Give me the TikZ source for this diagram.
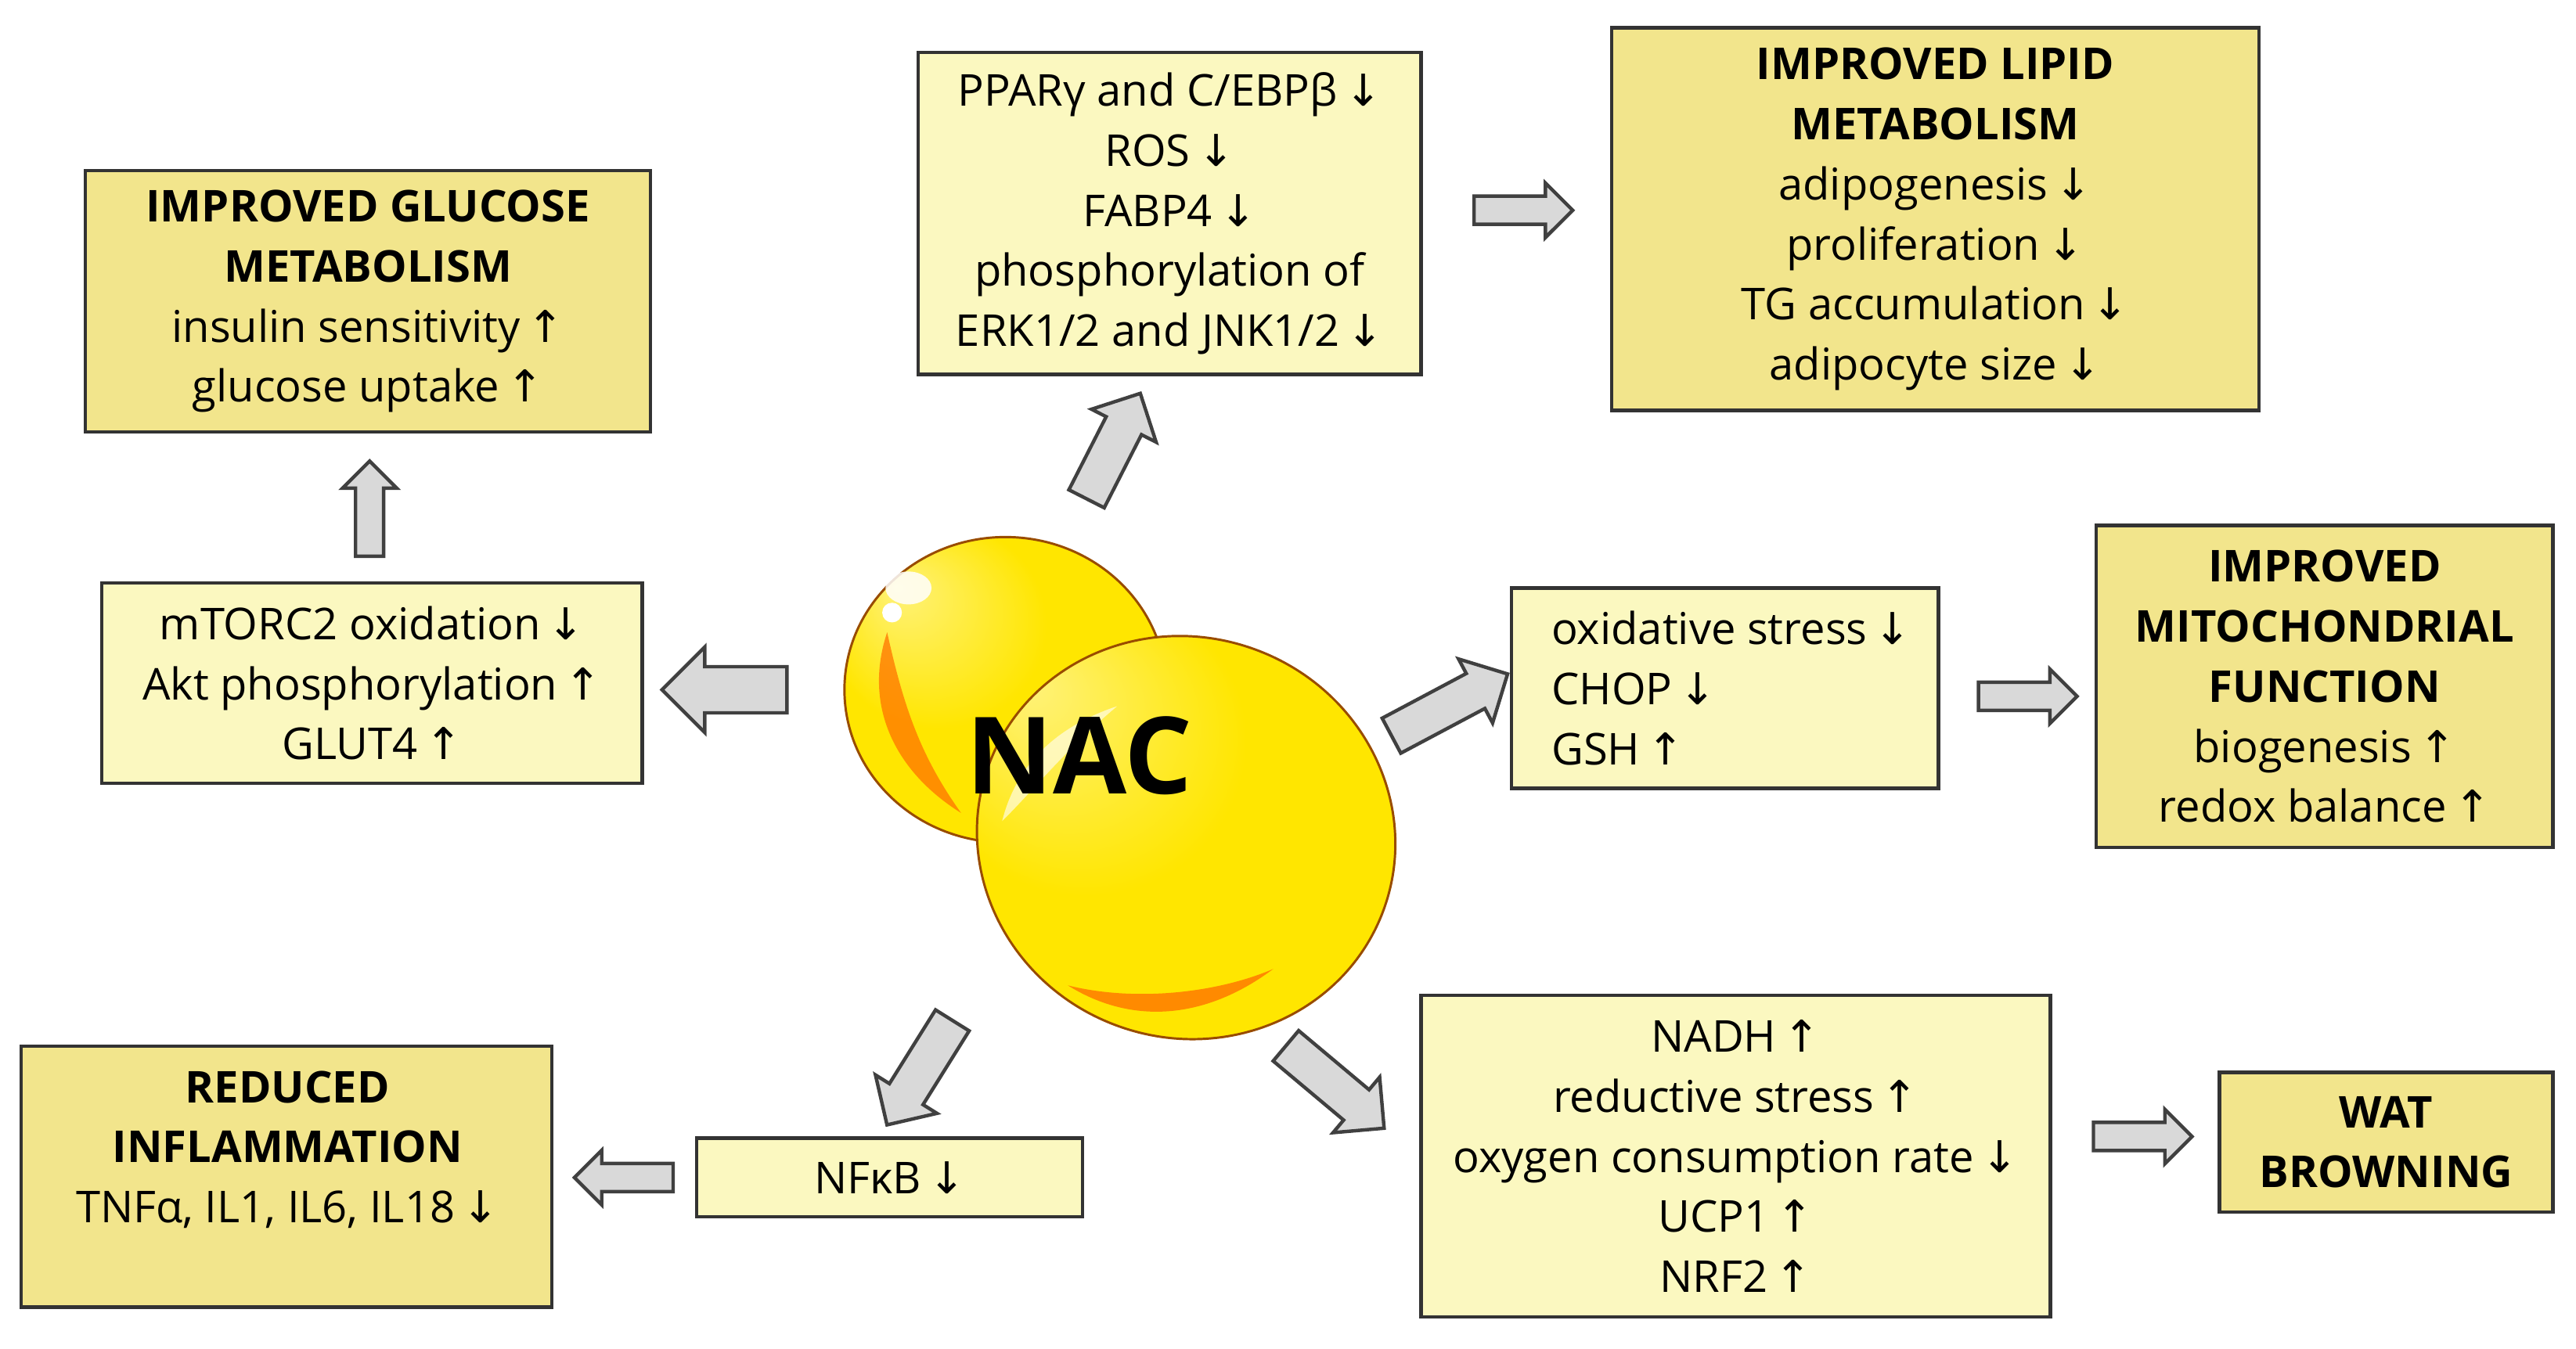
\documentclass[tikz,border=0pt]{standalone}
\usepackage{fontspec}
\setmainfont{Open Sans}
\newfontfamily\arrf{DejaVu Sans}
\newcommand{\ua}{{\arrf\,↑}}
\newcommand{\da}{{\arrf\,↓}}
\usetikzlibrary{shapes.arrows}
\definecolor{lightbox}{HTML}{FBF8C0}
\definecolor{darkbox}{HTML}{F2E58C}
\definecolor{arrfill}{HTML}{D9D9D9}
\definecolor{arrdraw}{HTML}{404040}
\definecolor{ballin}{HTML}{FFF27A}
\definecolor{ballmid}{HTML}{FFE600}
\definecolor{ballout}{HTML}{E8B800}
\pgfdeclareradialshading{ballsh}{\pgfpoint{-0.6cm}{0.6cm}}{color(0cm)=(ballin); color(0.6cm)=(ballmid); color(1.3cm)=(ballmid); color(1.6cm)=(ballout)}
\tikzset{
 box/.style={draw=black!80,line width=0.6pt,inner sep=0pt,align=center,font=\fontsize{7.6}{10.4}\selectfont},
 lb/.style={box,fill=lightbox},
 db/.style={box,fill=darkbox},
 barr/.style={single arrow,draw=arrdraw,fill=arrfill,line width=0.6pt,inner xsep=0pt,inner ysep=0.075cm,single arrow head extend=0.08cm,minimum width=0pt},
 bigarr/.style={barr,inner ysep=0.13cm,single arrow head extend=0.12cm},
 txt/.style={align=center,font=\fontsize{7.6}{10.4}\selectfont},
}
\newcommand{\bx}[6]{\node[#1,minimum width=#4*0.01cm-#2*0.01cm,minimum height=#5*0.01cm-#3*0.01cm] (#6) at ({(#2+#4)/2},{(#3+#5)/2}) {};}
\begin{document}
\begin{tikzpicture}[x=0.01cm,y=-0.01cm]
\useasboundingbox (0,0) rectangle (1568,821);
% boxes
\bx{db}{52}{104}{396}{263}{glu}
\node[txt] at (glu) {\textbf{IMPROVED GLUCOSE}\\\textbf{METABOLISM}\\insulin sensitivity\ua\\glucose uptake\ua};
\bx{lb}{62}{355}{391}{477}{mtor}
\node[txt] at (mtor) {mTORC2 oxidation\da\\Akt phosphorylation\ua\\GLUT4\ua};
\bx{lb}{559}{32}{865}{228}{ppar}
\node[txt] at (ppar) {PPARγ and C/EBPβ\da\\ROS\da\\FABP4\da\\phosphorylation of\\ERK1/2 and JNK1/2\da};
\bx{db}{981}{17}{1375}{250}{lip}
\node[txt] at (lip) {\textbf{IMPROVED LIPID}\\\textbf{METABOLISM}\\adipogenesis\da\\proliferation\da\\TG accumulation\da\\adipocyte size\da};
\bx{lb}{920}{358}{1180}{480}{ox}
\node[txt,align=left,anchor=west] at (932,419) {oxidative stress\da\\CHOP\da\\GSH\ua};
\bx{db}{1276}{320}{1554}{516}{mito}
\node[txt] at (mito) {\textbf{IMPROVED}\\\textbf{MITOCHONDRIAL}\\\textbf{FUNCTION}\\biogenesis\ua\\redox balance\ua};
\bx{lb}{865}{606}{1248}{802}{nadh}
\node[txt] at (nadh) {NADH\ua\\reductive stress\ua\\oxygen consumption rate\da\\UCP1\ua\\NRF2\ua};
\bx{db}{1351}{653}{1554}{738}{wat}
\node[txt] at (wat) {\textbf{WAT}\\\textbf{BROWNING}};
\bx{lb}{424}{693}{659}{741}{nfkb}
\node[txt] at (nfkb) {NFκB\da};
\bx{db}{13}{637}{336}{796}{infl}
\node[txt] at (175,700) {\textbf{REDUCED}\\\textbf{INFLAMMATION}\\TNFα, IL1, IL6, IL18\da};
% NAC blobs
\shade[shading=ballsh,draw=orange!60!black,line width=0.4pt] (612,420) ellipse [x radius=98,y radius=93];
\fill[orange!90!red,opacity=0.75] (540,385) .. controls (525,430) and (545,470) .. (585,495) .. controls (560,460) and (550,430) .. (540,385);
\fill[white,opacity=0.85] (553,358) ellipse [x radius=14,y radius=10];
\fill[white] (543,373) circle (6);
\shade[shading=ballsh,draw=orange!60!black,line width=0.4pt,rotate around={-20:(722,510)}] (722,510) ellipse [x radius=128,y radius=122];
\fill[orange!90!red,opacity=0.8] (650,600) .. controls (690,625) and (735,620) .. (775,590) .. controls (740,605) and (690,610) .. (650,600);
\fill[white,opacity=0.6] (610,500) .. controls (620,460) and (650,440) .. (680,430) .. controls (650,455) and (630,480) .. (610,500);
\node[font=\fontsize{18.5}{22}\bfseries\selectfont] (nac) at (657,460) {NAC};
% block arrows
\node[barr,minimum height=0.58cm,rotate=90] (a1) at (225,314) {};
\node[bigarr,minimum height=0.76cm,rotate=180] (a2) at (448,420) {};
\node[barr,inner ysep=0.11cm,single arrow head extend=0.1cm,minimum height=0.72cm,rotate=63] (a3) at (675,277) {};
\node[barr,minimum height=0.6cm] (a4) at (923,128) {};
\node[barr,inner ysep=0.11cm,single arrow head extend=0.1cm,minimum height=0.8cm,rotate=28] (a5) at (877,432) {};
\node[barr,minimum height=0.6cm] (a6) at (1230,424) {};
\node[barr,inner ysep=0.11cm,single arrow head extend=0.1cm,minimum height=0.75cm,rotate=-122] (a7) at (563,648) {};
\node[barr,inner ysep=0.11cm,single arrow head extend=0.1cm,minimum height=0.78cm,rotate=-40] (a8) at (808,658) {};
\node[barr,minimum height=0.6cm,rotate=180] (a9) at (384,717) {};
\node[barr,minimum height=0.6cm] (a10) at (1300,692) {};
\end{tikzpicture}
\end{document}
